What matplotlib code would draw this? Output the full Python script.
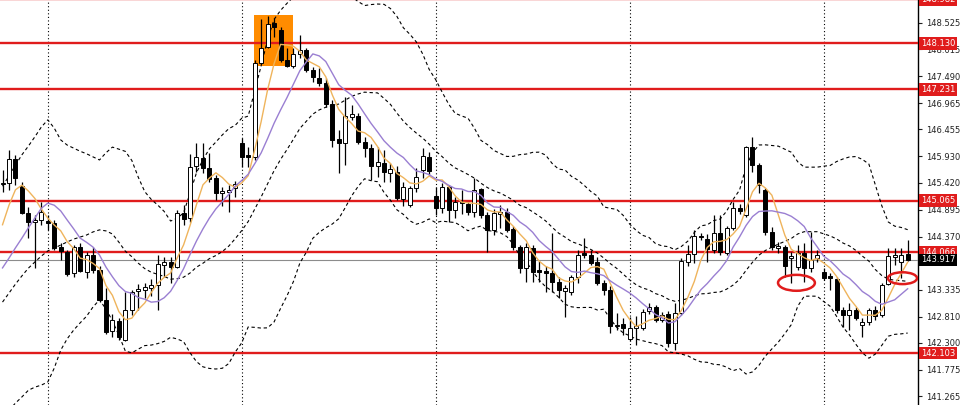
import numpy as np
import pandas as pd
import matplotlib
matplotlib.use("Agg")
import matplotlib.pyplot as plt
from matplotlib.patches import Rectangle, Ellipse
from matplotlib.transforms import blended_transform_factory

# ---- OHLC bars -------------------------------------------------------------
opens = [
    145.39, 145.41, 145.88, 145.35, 144.83, 144.65, 144.69, 144.67, 144.63, 144.17,
    144.07, 143.66, 144.17, 143.68, 144.01, 143.72, 143.14, 142.53, 142.73, 142.36,
    142.94, 143.31, 143.33, 143.37, 143.43, 143.82, 143.87, 143.78, 144.83, 144.73,
    145.74, 145.90, 145.70, 145.51, 145.22, 145.24, 145.31, 146.19, 145.96, 145.92,
    147.75, 148.06, 148.52, 148.39, 147.80, 147.69, 147.92, 148.00, 147.61, 147.45,
    147.36, 146.95, 146.27, 146.19, 146.70, 146.71, 146.21, 146.09, 145.74, 145.80,
    145.61, 145.63, 145.10, 144.98, 145.31, 145.66, 145.92, 145.16, 144.92, 145.33,
    144.89, 145.04, 145.00, 144.85, 145.30, 144.79, 144.50, 144.81, 144.85, 144.52,
    144.17, 143.76, 144.15, 143.72, 143.70, 143.66, 143.49, 143.31, 143.29, 143.58,
    144.05, 144.01, 143.87, 143.47, 143.33, 142.63, 142.67, 142.38, 142.59, 142.59,
    142.92, 143.00, 142.75, 142.86, 142.30, 142.88, 143.87, 144.03, 144.38, 144.32,
    144.11, 144.44, 144.05, 144.54, 144.92, 144.79, 146.11, 145.76, 145.28, 144.46,
    144.15, 144.17, 143.95, 143.78, 144.05, 143.76, 143.95, 143.68, 143.60, 143.54,
    142.94, 142.84, 142.94, 142.65, 142.71, 142.94, 142.84, 143.45, 143.97, 143.87,
    144.03,
]
highs = [
    145.66, 146.05, 145.96, 145.43, 144.94, 144.79, 145.04, 144.79, 144.69, 144.24,
    144.11, 144.21, 144.24, 144.07, 144.17, 143.80, 143.37, 142.86, 142.78, 143.29,
    143.33, 143.45, 143.47, 143.54, 144.01, 143.97, 143.97, 144.89, 144.98, 145.98,
    146.19, 146.19, 146.00, 145.57, 145.33, 145.37, 145.45, 146.29, 146.11, 147.80,
    148.60, 148.66, 148.62, 148.45, 148.04, 148.04, 148.29, 148.04, 147.67, 147.65,
    147.45, 147.03, 146.44, 147.09, 146.93, 146.77, 146.31, 146.17, 146.11, 146.05,
    145.80, 145.74, 145.43, 145.35, 145.70, 146.09, 146.02, 145.33, 145.41, 145.37,
    145.14, 145.28, 145.04, 145.51, 145.31, 144.85, 144.91, 144.98, 144.92, 144.58,
    144.21, 144.24, 144.21, 143.89, 143.80, 144.44, 143.58, 143.43, 143.62, 144.11,
    144.34, 144.11, 143.97, 143.52, 143.41, 142.88, 142.78, 142.80, 142.82, 142.96,
    143.08, 143.04, 142.90, 142.92, 143.08, 143.95, 144.21, 144.50, 144.44, 144.42,
    144.79, 144.79, 144.58, 145.04, 145.00, 146.13, 146.31, 145.80, 145.31, 144.56,
    144.26, 144.21, 144.07, 144.21, 144.24, 144.46, 144.11, 143.76, 143.66, 143.58,
    143.00, 143.08, 143.00, 142.78, 142.98, 143.02, 143.47, 144.15, 144.15, 144.15,
    144.30,
]
lows = [
    145.24, 145.28, 145.37, 144.81, 144.34, 143.76, 144.60, 144.50, 144.11, 143.91,
    143.60, 143.58, 143.68, 143.56, 143.66, 143.10, 142.47, 142.42, 142.36, 142.34,
    142.84, 142.94, 143.17, 143.21, 142.94, 143.58, 143.47, 143.76, 144.60, 144.65,
    145.63, 145.61, 145.43, 145.08, 144.96, 144.85, 145.14, 145.72, 145.72, 145.86,
    147.73, 148.04, 148.25, 147.77, 147.67, 147.65, 147.84, 147.57, 147.38, 147.30,
    146.89, 146.11, 145.61, 145.76, 146.64, 146.17, 145.92, 145.47, 145.53, 145.43,
    145.43, 145.08, 144.96, 144.94, 145.24, 145.51, 145.57, 144.79, 144.83, 144.65,
    144.73, 144.81, 144.79, 144.75, 144.73, 144.07, 144.40, 144.54, 144.46, 144.11,
    143.66, 143.49, 143.49, 143.49, 143.29, 143.29, 143.17, 142.80, 143.23, 143.47,
    143.95, 143.82, 143.43, 143.23, 142.49, 142.55, 142.45, 142.34, 142.26, 142.55,
    142.86, 142.71, 142.71, 142.22, 142.16, 142.84, 143.80, 143.86, 144.30, 143.87,
    144.05, 144.01, 144.01, 144.50, 144.81, 144.75, 145.63, 145.22, 144.40, 144.11,
    144.05, 143.58, 143.47, 143.72, 143.49, 143.68, 143.87, 143.52, 143.33, 142.88,
    142.61, 142.55, 142.75, 142.42, 142.65, 142.75, 142.80, 143.43, 143.82, 143.56,
    143.89,
]
closes = [
    145.41, 145.88, 145.51, 144.83, 144.65, 144.69, 144.85, 144.63, 144.15, 144.09,
    143.64, 144.17, 143.70, 144.01, 143.72, 143.14, 142.51, 142.75, 142.42, 142.94,
    143.29, 143.35, 143.39, 143.43, 143.84, 143.87, 143.78, 144.83, 144.71, 145.72,
    145.92, 145.70, 145.49, 145.22, 145.26, 145.28, 145.39, 145.92, 145.92, 147.75,
    148.04, 148.50, 148.45, 147.80, 147.69, 147.92, 148.00, 147.61, 147.47, 147.36,
    146.95, 146.25, 146.19, 146.71, 146.75, 146.21, 146.09, 145.74, 145.82, 145.63,
    145.68, 145.12, 145.33, 145.31, 145.53, 145.94, 145.64, 144.92, 145.33, 144.89,
    145.04, 145.02, 144.85, 145.28, 144.79, 144.50, 144.83, 144.85, 144.50, 144.17,
    143.76, 144.17, 143.68, 143.68, 143.66, 143.49, 143.33, 143.37, 143.58, 144.01,
    144.01, 143.86, 143.47, 143.33, 142.63, 142.65, 142.59, 142.59, 142.63, 142.90,
    143.00, 142.75, 142.84, 142.30, 142.88, 143.89, 144.03, 144.38, 144.36, 144.13,
    144.44, 144.07, 144.54, 144.92, 144.87, 146.11, 145.76, 145.37, 144.46, 144.17,
    144.19, 143.80, 143.99, 144.05, 143.76, 143.91, 144.01, 143.56, 143.56, 142.94,
    142.84, 142.94, 142.78, 142.71, 142.94, 142.82, 143.43, 143.99, 144.01, 144.01,
    143.917,
]

# ---- indicator values for the opening bars (look-back starts before bar 0) --
fast_ma_start = [144.60, 144.98, 145.28, 145.37]
slow_ma_start = [143.76, 143.95, 144.15, 144.34, 144.54, 144.73, 144.92, 145.02, 144.98]
upper_band_start = [145.35, 145.55, 145.76, 145.96, 146.13, 146.31, 146.50, 146.64, 146.48,
                    146.25, 146.15, 146.09, 146.03, 145.98, 145.92, 145.86, 146.00, 146.11,
                    146.07]
lower_band_start = [140.84, 140.99, 141.13, 141.25, 141.38, 141.44, 141.48, 141.54, 141.81,
                    142.16, 142.38, 142.55, 142.69, 142.82, 143.00, 143.14, 142.96, 142.73,
                    142.45]

# ---- horizontal levels, price scale, session separators ---------------------
level_prices = [148.982, 148.130, 147.231, 145.065, 144.066, 142.103]
axis_ticks = [148.525, 148.015, 147.490, 146.965, 146.455, 145.930, 145.420,
              144.895, 144.370, 143.335, 142.810, 142.300, 141.775, 141.265]
session_breaks = [7, 37, 67, 97, 127]

FAST_N, SLOW_N, BB_N, BB_K = 5, 10, 20, 2.0

RED = "#e01c1c"
MA_FAST_COLOR = "#efb45c"
MA_SLOW_COLOR = "#9a7fd2"

o = np.asarray(opens)
h = np.asarray(highs)
l = np.asarray(lows)
c = np.asarray(closes)
x = np.arange(len(c))

cs = pd.Series(c)
fast_ma = cs.rolling(FAST_N).mean().to_numpy()
fast_ma[:len(fast_ma_start)] = fast_ma_start
slow_ma = cs.rolling(SLOW_N).mean().to_numpy()
slow_ma[:len(slow_ma_start)] = slow_ma_start
bb_mid = cs.rolling(BB_N).mean()
bb_sd = cs.rolling(BB_N).std(ddof=0)
bb_up = (bb_mid + BB_K * bb_sd).to_numpy()
bb_lo = (bb_mid - BB_K * bb_sd).to_numpy()
bb_up[:len(upper_band_start)] = upper_band_start
bb_lo[:len(lower_band_start)] = lower_band_start
bb_md = (bb_up + bb_lo) / 2.0

# ---- figure ----------------------------------------------------------------
fig = plt.figure(figsize=(9.6, 4.05), dpi=100)
ax = fig.add_axes([0, 0, 918 / 960, 1])
ax.set_xlim(-0.39, 141.6)
ax.set_ylim(141.093, 148.972)

for b in session_breaks:
    ax.axvline(b, color="black", lw=0.8, ls=(0, (1, 2.2)), zorder=1)

# highlighted top zone
ax.add_patch(Rectangle((38.9, 147.69), 6.03, 0.99, facecolor="#ff8c00",
                       edgecolor="none", zorder=2))

# horizontal levels and current price line
for p in level_prices:
    ax.axhline(p, color=RED, lw=1.7, zorder=3)
ax.axhline(c[-1], color="#8c8c8c", lw=0.8, zorder=3)

# Bollinger bands (dashed)
dash = (0, (3, 2.5))
for band in (bb_up, bb_md, bb_lo):
    ax.plot(x, band, color="black", lw=0.8, ls=dash, zorder=4)

# candles
ax.vlines(x, l, h, color="black", lw=0.9, zorder=5)
bull = c >= o
body_lo = np.minimum(o, c)
body_h = np.maximum(np.abs(c - o), 0.012)
ax.bar(x, body_h, bottom=body_lo, width=0.62,
       color=np.where(bull, "white", "black"), edgecolor="black",
       linewidth=0.7, zorder=6)

# moving averages
ax.plot(x, fast_ma, color=MA_FAST_COLOR, lw=1.0, zorder=7)
ax.plot(x, slow_ma, color=MA_SLOW_COLOR, lw=1.0, zorder=7)

# circled lows
ax.add_patch(Ellipse((122.8, 143.47), 5.7, 0.31, fill=False, edgecolor=RED,
                     lw=1.8, zorder=8))
ax.add_patch(Ellipse((139.2, 143.56), 4.5, 0.23, fill=False, edgecolor=RED,
                     lw=1.8, zorder=8))

# price scale on the right
ax.yaxis.tick_right()
ax.set_yticks(axis_ticks)
ax.set_yticklabels([f"{t:.3f}" for t in axis_ticks])
ax.tick_params(axis="y", length=3, width=0.8, pad=2.5, labelsize=6,
               colors="#222222")
ax.set_xticks([])
for side in ("left", "top", "bottom"):
    ax.spines[side].set_visible(False)
ax.spines["right"].set_linewidth(1.0)
ax.spines["right"].set_color("black")

trans = blended_transform_factory(ax.transAxes, ax.transData)
for p in level_prices:
    ax.text(1.0035, p, f"{p:.3f}", transform=trans, ha="left", va="center",
            fontsize=6, color="white", clip_on=False, zorder=20,
            bbox=dict(boxstyle="square,pad=0.22", fc=RED, ec="none"))
ax.text(1.0035, c[-1], f"{c[-1]:.3f}", transform=trans, ha="left", va="center",
        fontsize=6, color="white", clip_on=False, zorder=20,
        bbox=dict(boxstyle="square,pad=0.22", fc="black", ec="none"))

fig.savefig("out.png", dpi=100)
